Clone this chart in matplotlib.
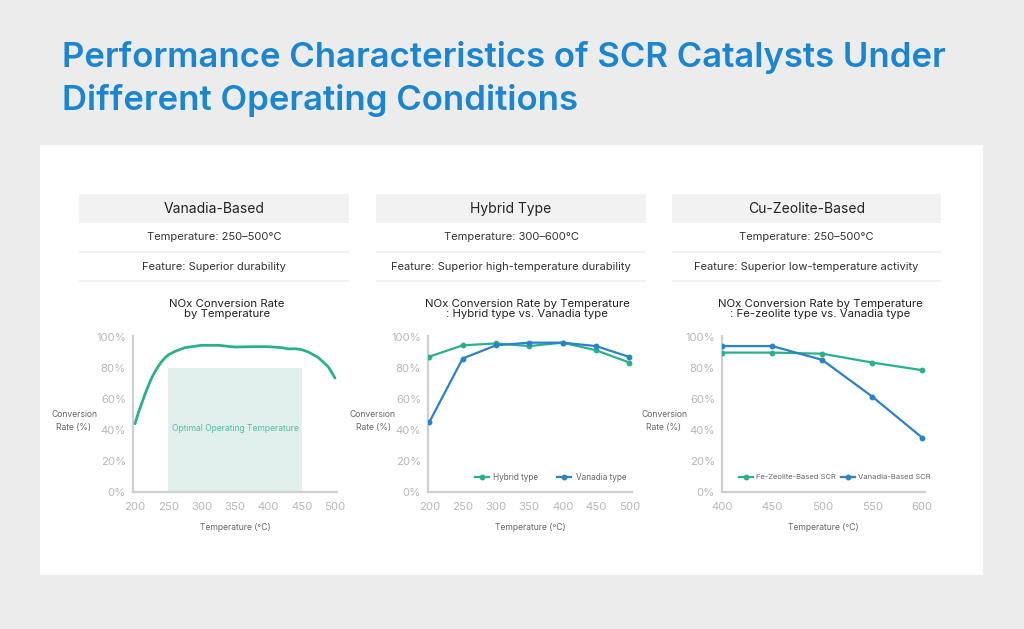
import matplotlib
matplotlib.use("Agg")
import matplotlib.pyplot as plt
from matplotlib.patches import Rectangle
from matplotlib.ticker import FuncFormatter

plt.rcParams['font.family'] = ['Inter', 'DejaVu Sans']

# ---------------- data ----------------
title_lines = ["Performance Characteristics of SCR Catalysts Under",
               "Different Operating Conditions"]
panel_names = ["Vanadia-Based", "Hybrid Type", "Cu-Zeolite-Based"]
panel_temps = ["Temperature: 250–500°C", "Temperature: 300–600°C", "Temperature: 250–500°C"]
panel_features = ["Feature: Superior durability",
                  "Feature: Superior high-temperature durability",
                  "Feature: Superior low-temperature activity"]
chart_titles = ["NOx Conversion Rate\nby Temperature",
                "NOx Conversion Rate by Temperature\n: Hybrid type vs. Vanadia type",
                "NOx Conversion Rate by Temperature\n: Fe-zeolite type vs. Vanadia type"]

# chart 1: vanadia curve
c1_temp = [200, 205, 210, 215, 220, 225, 230, 235, 240, 245, 250, 260, 275, 300, 325, 350, 375, 400,
           420, 430, 440, 450, 460, 475, 490, 500]
c1_rate = [44, 51, 57, 63, 68.5, 73.5, 77.5, 81, 84, 86.5, 88.3, 90.6, 93, 94.5, 94.5, 93.4, 93.6, 93.6,
           93, 92.2, 92.3, 91.7, 90.2, 86.6, 80.6, 73.4]
c1_band = (250, 450, 80)
c1_band_label = "Optimal Operating Temperature"

# chart 2
c2_temp = [200, 250, 300, 350, 400, 450, 500]
c2_hybrid = [87.2, 94.5, 95.7, 94.0, 96.2, 91.3, 83.4]
c2_vanadia = [45.0, 86.0, 94.5, 96.2, 96.2, 94.0, 87.0]
c2_labels = ["Hybrid type", "Vanadia type"]

# chart 3
c3_temp = [400, 450, 500, 550, 600]
c3_fe = [89.8, 89.8, 89.1, 83.4, 78.5]
c3_vanadia = [94.0, 94.0, 85.1, 61.5, 35.1]
c3_labels = ["Fe-Zeolite-Based SCR", "Vanadia-Based SCR"]

y_ticks = [0, 20, 40, 60, 80, 100]
x_ticks = [[200, 250, 300, 350, 400, 450, 500],
           [200, 250, 300, 350, 400, 450, 500],
           [400, 450, 500, 550, 600]]

# ---------------- style ----------------
TEAL = "#2bb08e"
BLUE = "#2a82c9"
BAND = "#e2f0ed"
AX_GRAY = "#cfcfcf"
TICK_GRAY = "#b8b8b8"

W, H = 1024, 629
fig = plt.figure(figsize=(W / 100, H / 100), dpi=100)
fig.patch.set_facecolor("#ececec")

bg = fig.add_axes([0, 0, 1, 1])
bg.set_xlim(0, W)
bg.set_ylim(H, 0)
bg.axis("off")

# title
for k, yb in enumerate([67, 110]):
    bg.text(62, yb, title_lines[k], color="#1a86d2", fontsize=25.0, fontweight="semibold",
            va="baseline", ha="left")

# white panel
bg.add_patch(Rectangle((40, 145), 943, 430, facecolor="white", edgecolor="none"))

box_x = [(79, 349), (376, 646), (672, 941)]
for i, (x0, x1) in enumerate(box_x):
    bg.add_patch(Rectangle((x0, 194), x1 - x0, 29, facecolor="#f2f2f2", edgecolor="none"))
    cx = (x0 + x1) / 2
    bg.text(cx, 209, panel_names[i], ha="center", va="center", fontsize=10, color="#222222")
    bg.text(cx, 237.5, panel_temps[i], ha="center", va="center", fontsize=8, color="#333333")
    bg.add_patch(Rectangle((x0, 251), x1 - x0, 2, facecolor="#f2f2f2", edgecolor="none"))
    bg.text(cx, 266.5, panel_features[i], ha="center", va="center", fontsize=8, color="#333333")
    bg.add_patch(Rectangle((x0, 280), x1 - x0, 2, facecolor="#f2f2f2", edgecolor="none"))


def px_axes(left, right, top, bottom):
    return fig.add_axes([left / W, 1 - bottom / H, (right - left) / W, (bottom - top) / H])


def style_axes(ax, xlim, xt):
    ax.set_facecolor("none")
    ax.set_xlim(*xlim)
    ax.set_ylim(0, 100.5)
    for s in ["top", "right"]:
        ax.spines[s].set_visible(False)
    for s in ["left", "bottom"]:
        ax.spines[s].set_color(AX_GRAY)
        ax.spines[s].set_linewidth(1.6)
    ax.set_yticks(y_ticks)
    ax.yaxis.set_major_formatter(FuncFormatter(lambda v, p: f"{int(v)}%"))
    ax.set_xticks(xt)
    ax.tick_params(length=0, labelsize=8.2, colors=TICK_GRAY)
    ax.tick_params(axis="y", pad=5)
    ax.tick_params(axis="x", pad=7)


axes_px = [(133, 337), (428, 632), (722, 925)]
xlims = [(197, 503), (198, 504), (399.5, 603)]
title_cx = [227, 527, 820]
ylabel_x = [74, 373, 664]

axs = []
for i in range(3):
    l, r = axes_px[i]
    ax = px_axes(l, r, 336, 492)
    style_axes(ax, xlims[i], x_ticks[i])
    axs.append(ax)
    bg.text(title_cx[i], 309, chart_titles[i], ha="center", va="center", fontsize=8.2,
            color="#222222", linespacing=1.05)
    bg.text(ylabel_x[i], 421, "Conversion\nRate (%)", ha="center", va="center", fontsize=6.2,
            color="#666666", linespacing=1.6)
    bg.text((l + r) / 2, 528, "Temperature (°C)", ha="center", va="center", fontsize=6.2, color="#666666")

# chart 1
ax = axs[0]
ax.add_patch(Rectangle((c1_band[0], 0), c1_band[1] - c1_band[0], c1_band[2], facecolor=BAND,
                       edgecolor="none", zorder=1))
ax.text((c1_band[0] + c1_band[1]) / 2, 41, c1_band_label, ha="center", va="center", fontsize=6.2,
        color="#4fbfa4", zorder=2)
ax.plot(c1_temp, c1_rate, color=TEAL, lw=2.0, zorder=3, solid_capstyle="round", solid_joinstyle="round")

# chart 2
ax = axs[1]
ax.plot(c2_temp, c2_hybrid, color=TEAL, lw=1.6, marker="o", ms=3.2, label=c2_labels[0], zorder=3)
ax.plot(c2_temp, c2_vanadia, color=BLUE, lw=1.6, marker="o", ms=3.2, label=c2_labels[1], zorder=3)
ax.legend(loc="center", bbox_to_anchor=(0.6, 0.095), ncol=2, frameon=False, fontsize=5.9,
          handlelength=1.7, handletextpad=0.5, columnspacing=2.4, labelcolor="#666666")

# chart 3
ax = axs[2]
ax.plot(c3_temp, c3_fe, color=TEAL, lw=1.6, marker="o", ms=3.2, label=c3_labels[0], zorder=3)
ax.plot(c3_temp, c3_vanadia, color=BLUE, lw=1.6, marker="o", ms=3.2, label=c3_labels[1], zorder=3)
ax.legend(loc="center", bbox_to_anchor=(0.555, 0.095), ncol=2, frameon=False, fontsize=5.5,
          handlelength=1.9, handletextpad=0.4, columnspacing=0.6, labelcolor="#666666")

fig.savefig("out.png", dpi=100, facecolor=fig.get_facecolor())
